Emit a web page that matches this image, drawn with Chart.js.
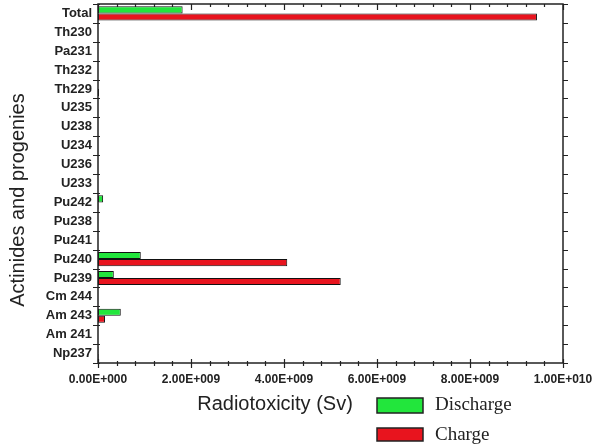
<!DOCTYPE html>
<html>
<head>
<meta charset="utf-8">
<script src="https://cdn.jsdelivr.net/npm/chart.js@4"></script>
<style>
  html, body { margin: 0; padding: 0; background: #fff; }
  #wrap { width: 609px; height: 444px; position: relative; }
</style>
</head>
<body>
<div id="wrap"><canvas id="chart"></canvas></div>
<script>
// Nuclides, top to bottom
const categories = ['Total', 'Th230', 'Pa231', 'Th232', 'Th229', 'U235', 'U238', 'U234', 'U236', 'U233',
  'Pu242', 'Pu238', 'Pu241', 'Pu240', 'Pu239', 'Cm 244', 'Am 243', 'Am 241', 'Np237'];

// Radiotoxicity (Sv)
const discharge = [1.82e9, 0, 0, 0, 0, 0, 0, 0, 0, 0, 0.11e9, 0, 0, 0.92e9, 0.34e9, 0, 0.49e9, 0, 0.01e9];
const charge    = [9.44e9, 0, 0, 0, 0.02e9, 0, 0, 0, 0, 0, 0.01e9, 0, 0, 4.07e9, 5.22e9, 0, 0.15e9, 0, 0.015e9];

const xMax       = 1e10;
const majorStep  = 2e9;
const minorStep  = 4e8;

const GREEN = '#22e63c';
const RED   = '#e8141e';
const AXIS  = '#222';

// 2.00E+009 style
function sci(v) {
  if (v === 0) return '0.00E+000';
  const e = Math.floor(Math.log10(v));
  const m = v / Math.pow(10, e);
  return m.toFixed(2) + 'E+' + String(e).padStart(3, '0');
}

// Frame, tick marks, titles and legend
const decor = {
  id: 'decor',
  afterDraw(chart) {
    const { ctx, chartArea: a, scales } = chart;
    const xs = scales.x, ys = scales.y;
    ctx.save();
    ctx.strokeStyle = AXIS;
    ctx.lineWidth = 1.5;
    ctx.strokeRect(a.left, a.top, a.right - a.left, a.bottom - a.top);

    ctx.lineWidth = 1.2;
    ctx.beginPath();
    // category boundaries
    for (let i = 0; i <= categories.length; i++) {
      const y = Math.round(ys.getPixelForValue(i - 0.5)) + 0.5;
      ctx.moveTo(a.left - 5, y); ctx.lineTo(a.left + 2, y);
      ctx.moveTo(a.right, y); ctx.lineTo(a.right + 5, y);
    }
    // x ticks, major and minor
    for (let v = 0; v <= xMax + 1; v += minorStep) {
      const x = Math.round(xs.getPixelForValue(v)) + 0.5;
      const major = Math.abs(v % majorStep) < 1;
      ctx.moveTo(x, a.bottom - (major ? 4 : 2)); ctx.lineTo(x, a.bottom + (major ? 5 : 3));
      ctx.moveTo(x, a.top); ctx.lineTo(x, a.top + (major ? 6 : 3));
    }
    ctx.stroke();

    // axis titles
    ctx.fillStyle = '#222';
    ctx.font = '20px "Liberation Sans", Arial, sans-serif';
    ctx.textAlign = 'center';
    ctx.textBaseline = 'middle';
    ctx.fillText('Radiotoxicity (Sv)', 275, 404);
    ctx.save();
    ctx.translate(18, 200);
    ctx.rotate(-Math.PI / 2);
    ctx.fillText('Actinides and progenies', 0, 0);
    ctx.restore();

    // legend
    const items = chart.data.datasets;
    ctx.font = '19px "Liberation Serif", "Times New Roman", serif';
    ctx.textAlign = 'left';
    items.forEach((ds, i) => {
      const y = 398 + i * 30;
      ctx.fillStyle = ds.backgroundColor;
      ctx.fillRect(377, y, 46, 13 + (1 - i) * 2);
      ctx.lineWidth = 1.5;
      ctx.strokeStyle = AXIS;
      ctx.strokeRect(377, y, 46, 13 + (1 - i) * 2);
      ctx.fillStyle = '#222';
      ctx.fillText(ds.label, 435, y + 7);
    });
    ctx.restore();
  }
};

new Chart(document.getElementById('chart'), {
  type: 'bar',
  data: {
    labels: categories,
    datasets: [
      { label: 'Discharge', data: discharge, backgroundColor: GREEN, borderColor: '#111', borderWidth: 1 },
      { label: 'Charge',    data: charge,    backgroundColor: RED,   borderColor: '#111', borderWidth: 1 }
    ]
  },
  options: {
    indexAxis: 'y',
    responsive: true,
    maintainAspectRatio: false,
    animation: false,
    layout: { padding: { left: 0, right: 46, top: 4, bottom: 0 } },
    datasets: { bar: { categoryPercentage: 0.75, barPercentage: 1.0, borderSkipped: false } },
    plugins: { legend: { display: false }, tooltip: { enabled: false } },
    scales: {
      x: {
        min: 0, max: xMax,
        grid: { display: false, drawTicks: false },
        border: { display: false },
        ticks: {
          stepSize: majorStep, autoSkip: false, maxRotation: 0, padding: 9,
          color: '#222', font: { family: '"Liberation Sans", Arial, sans-serif', size: 12, weight: 'bold' },
          callback: v => sci(v)
        },
        afterFit: s => { s.height = 81; s.paddingLeft = 0; s.paddingRight = 0; }
      },
      y: {
        grid: { display: false, drawTicks: false, offset: true },
        border: { display: false },
        ticks: {
          autoSkip: false, padding: 6,
          color: '#222', font: { family: '"Liberation Sans", Arial, sans-serif', size: 13, weight: 'bold' }
        },
        afterFit: s => { s.width = 98; s.paddingTop = 0; s.paddingBottom = 0; }
      }
    }
  },
  plugins: [decor]
});
</script>
</body>
</html>
